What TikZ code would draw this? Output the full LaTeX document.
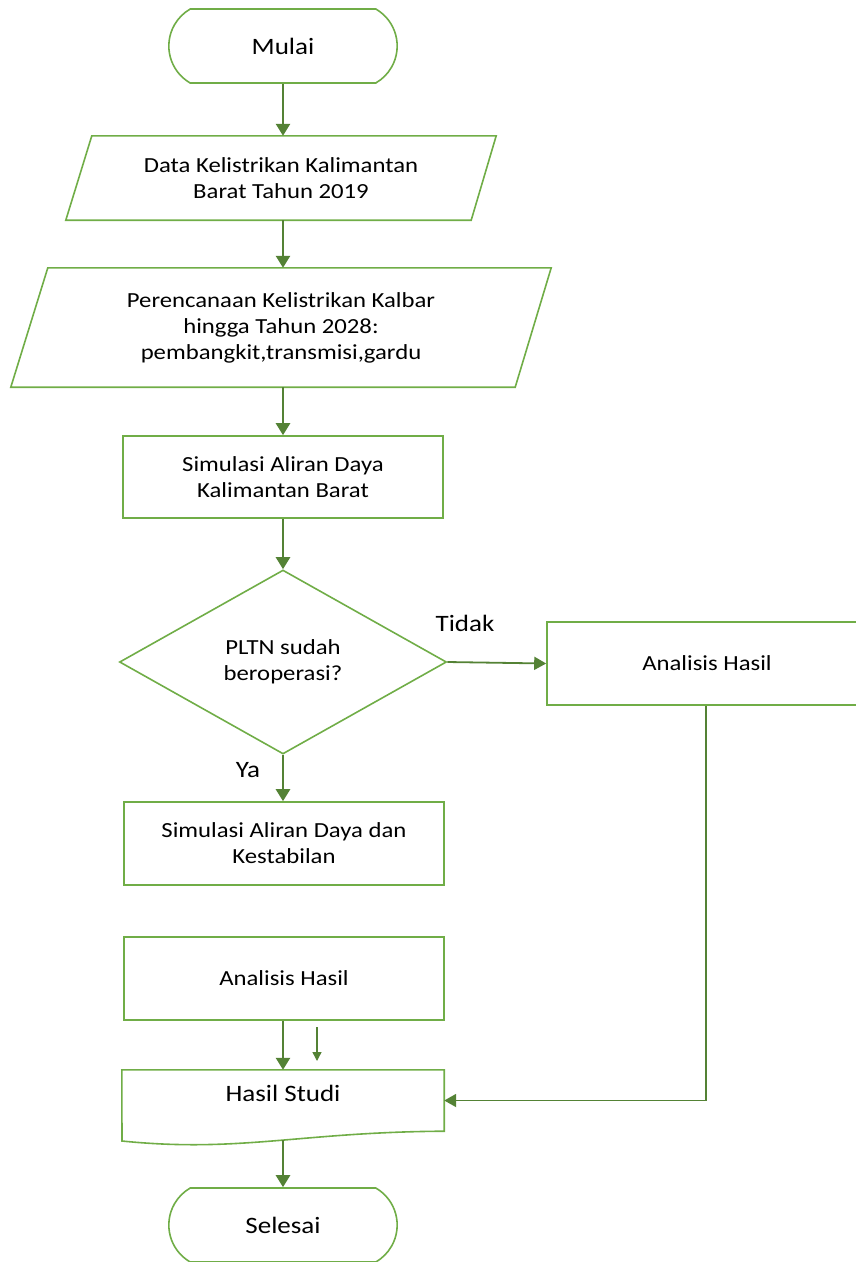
\documentclass[tikz,border=0pt]{standalone}
\usepackage{fontspec}
\setmainfont{Carlito}[FakeStretch=1.15]
\usepackage{tikz}
\usetikzlibrary{positioning, shapes.geometric, shapes.misc, arrows.meta, calc}
\definecolor{lgreen}{RGB}{112,173,71}
\definecolor{dgreen}{RGB}{84,130,53}
\tikzset{
	bodytext/.style={font=\fontsize{21.5}{26}\selectfont},
	bigtext/.style={font=\fontsize{23.5}{28}\selectfont}
}
\tikzset{
	outline/.style={draw=lgreen, line width=1.6pt},
	terminal/.style={outline, rounded rectangle, rounded rectangle arc length=120, minimum width=235pt, minimum height=74pt, bigtext},
	iobox/.style={align=center, inner sep=0pt, bodytext},
	procbox/.style={outline, minimum width=320pt, minimum height=83pt, align=center, bodytext},
	decision/.style={outline, diamond, minimum width=327pt, minimum height=184pt, inner sep=0pt, align=center, bodytext},
	flow/.style={dgreen, line width=2.6pt, -{Triangle[length=12pt,width=14pt]}},
	thinflow/.style={dgreen, line width=1.8pt, -{Triangle[length=12pt,width=13pt]}}
}

\begin{document}
\begin{tikzpicture}[x=1pt, y=1pt]
	\useasboundingbox (0,0) rectangle (856,-1262);
	% start
	\node[terminal] (mulai) at (283,-46) {Mulai};
	% input data, slanted boxes
	\node[iobox, minimum width=430pt, minimum height=84pt] (data) at (281,-178) {Data Kelistrikan Kalimantan\\Barat Tahun 2019};
	\draw[outline] ($(data.north west)+(26,0)$) -- (data.north east) -- ($(data.south east)+(-25,0)$) -- (data.south west) -- cycle;
	\node[iobox, minimum width=540pt, minimum height=119pt] (plan) at (281,-327.5) {Perencanaan Kelistrikan Kalbar\\hingga Tahun 2028:\\pembangkit,transmisi,gardu};
	\draw[outline] ($(plan.north west)+(37,0)$) -- (plan.north east) -- ($(plan.south east)+(-36,0)$) -- (plan.south west) -- cycle;
	% simulation
	\node[procbox, minimum height=82pt] (simflow) at (283,-477) {Simulasi Aliran Daya\\Kalimantan Barat};
	\node[decision] (pltn) at (283,-662) {PLTN sudah\\beroperasi?};
	\node[procbox] (anaright) at (707,-663.5) {Analisis Hasil};
	\node[procbox] (simstab) at (284,-843.5) {Simulasi Aliran Daya dan\\Kestabilan};
	\node[procbox] (analeft) at (284,-978.5) {Analisis Hasil};
	% document
	\node[minimum width=322pt, minimum height=61pt, inner sep=0pt] (hasil) at (283,-1100.5) {};
	\draw[outline] (hasil.north west) -- (hasil.north east) -- (hasil.south east)
		.. controls (300,-1132) and (240,-1153) .. (122,-1141) -- cycle;
	\node[bigtext] (hasiltxt) at (283,-1093) {Hasil Studi};
	\coordinate (docend) at (283,-1140);
	% end
	\node[terminal] (selesai) at (283,-1225) {Selesai};
	% branch labels
	\node[bigtext] (tidak) at (465,-623) {Tidak};
	\node[bigtext] (ya) at (248,-770) {Ya};
	% arrows
	\draw[flow] (mulai.south) -- (data.north -| mulai.south);
	\draw[flow] (data.south -| mulai.south) -- (plan.north -| mulai.south);
	\draw[flow] (plan.south -| mulai.south) -- (simflow.north -| mulai.south);
	\draw[flow] (simflow.south -| pltn.north) -- (pltn.north);
	\draw[thinflow] (pltn.east) -- (anaright.west);
	\draw[flow] (pltn.south) -- (simstab.north -| pltn.south);
	\draw[flow] (analeft.south -| hasil.north) -- (hasil.north);
	\draw[thinflow] ([xshift=-1pt]anaright.south) |- (hasil.east);
	\draw[flow] (docend) -- (selesai.north);
	% stray arrow
	\coordinate (straya) at (317,-1027);
	\coordinate (strayb) at (317,-1061);
	\draw[dgreen, line width=1.4pt, -{Triangle[length=9pt,width=9pt]}] (straya) -- (strayb);
\end{tikzpicture}
\end{document}
